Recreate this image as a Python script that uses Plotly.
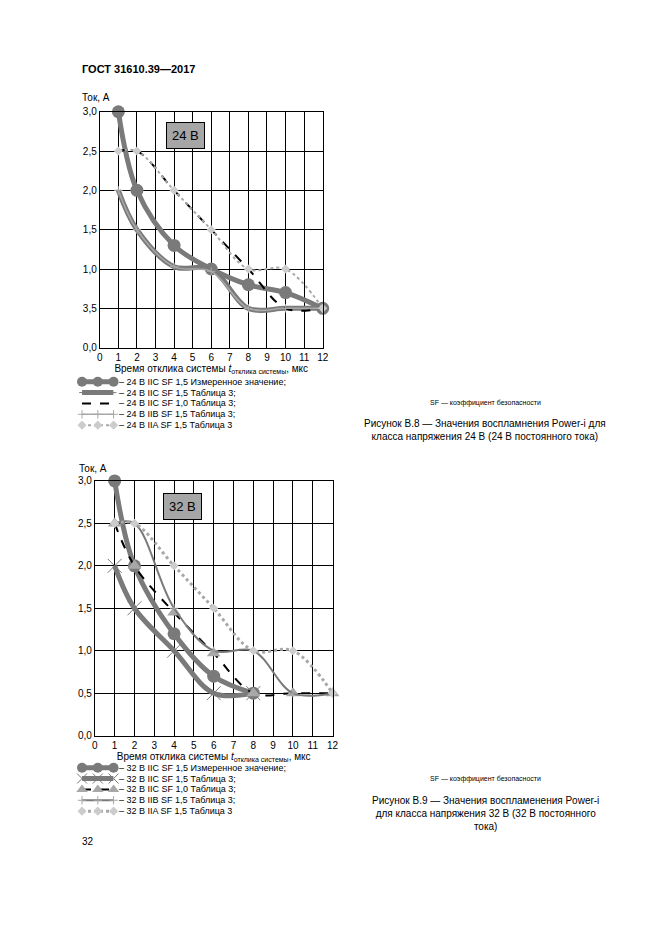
import plotly.graph_objects as go

x_top = [1, 2, 4, 6, 8, 10, 12]
top_measured = [3.0, 2.0, 1.3, 1.0, 0.8, 0.7, 0.5]
top_iic15 = [2.0, 1.5, 1.03, 1.0, 0.5, 0.5, 0.5]
top_iic10 = [2.5, 2.5, 2.0, 1.5, 1.0, 0.5, 0.5]
top_iib15 = [2.0, 1.5, 1.03, 0.97, 0.5, 0.5, 0.5]
top_iia15 = [2.5, 2.5, 2.0, 1.5, 1.0, 1.0, 0.5]

x_bot_short = [1, 2, 4, 6, 8]
x_bot = [1, 2, 4, 6, 8, 10, 12]
bot_measured = [3.0, 2.0, 1.2, 0.7, 0.5]
bot_iic15 = [2.0, 1.5, 1.0, 0.5, 0.5]
bot_iic10 = [2.5, 2.0, 1.45, 0.97, 0.5, 0.5, 0.5]
bot_iib15 = [2.5, 2.5, 1.5, 1.0, 1.0, 0.5, 0.5]
bot_iia15 = [2.5, 2.5, 2.0, 1.5, 1.0, 1.0, 0.5]

y_ticks = [0, 0.5, 1.0, 1.5, 2.0, 2.5, 3.0]
top_ticktext = ["0,0", "3,5", "1,0", "1,5", "2,0", "2,5", "3,0"]
bot_ticktext = ["0,0", "0,5", "1,0", "1,5", "2,0", "2,5", "3,0"]

top_names = ["– 24 В IIC SF 1,5 Измеренное значение;", "– 24 В IIC SF 1,5 Таблица 3;",
             "– 24 В IIC SF 1,0 Таблица 3;", "– 24 В IIB SF 1,5 Таблица 3;",
             "– 24 В IIA SF 1,5 Таблица 3"]
bot_names = [n.replace("24", "32") for n in top_names]
legend_rows = [1, 2, 3, 4, 5]
legend_span = [0, 0.5, 1]

dark = "#7a7a7a"
light = "#a8a8a8"

# page pixel -> paper coords (the page renders shifted by ~10/12 px)
def X(px):
    return (px - 10) / 661


def Y(py):
    return 1 - (py - 12) / 935


fig = go.Figure()


def styles(bottom):
    return [
        dict(mode="lines+markers", line=dict(color=dark, width=5, shape="spline"),
             marker=dict(size=13, color=dark)),
        dict(mode="lines+markers", line=dict(color=dark, width=5, shape="spline"),
             marker=dict(size=14 if bottom else 4, color=dark,
                         symbol="x-thin" if bottom else "line-ew", line=dict(color=dark, width=1))),
        dict(mode="lines+markers" if bottom else "lines",
             line=dict(color="black", width=2, dash="dash", shape="spline"),
             marker=dict(size=12, color=light, symbol="triangle-up")),
        dict(mode="lines+markers",
             line=dict(color=dark if bottom else light, width=2 if bottom else 1.5, shape="spline"),
             marker=dict(size=6, color=light, symbol="cross-thin", line=dict(color=light, width=1))),
        dict(mode="lines+markers",
             line=dict(color=light, width=3 if bottom else 2, dash="dot", shape="spline"),
             marker=dict(size=7, color="#cccccc", symbol="diamond")),
    ]


def add_set(xa, ya, lxa, lya, xs_list, data, bottom):
    st = styles(bottom)
    for xs, ys, s in zip(xs_list, data, st):
        fig.add_trace(go.Scatter(x=xs, y=ys, xaxis=xa, yaxis=ya, showlegend=False,
                                 cliponaxis=False, **s))
    # legend samples
    for row, s in zip(legend_rows, st):
        m = dict(s["marker"])
        m["size"] = min(m["size"], 10)
        fig.add_trace(go.Scatter(x=legend_span, y=[row] * 3, xaxis=lxa, yaxis=lya,
                                 showlegend=False, cliponaxis=False, mode=s["mode"],
                                 line=dict(s["line"], shape="linear"), marker=m,
                                 marker_maxdisplayed=0 if False else None,
                                 selectedpoints=None))


add_set("x", "y", "x3", "y3",
        [x_top, x_top, x_top, x_top, x_top],
        [top_measured, top_iic15, top_iic10, top_iib15, top_iia15], False)
add_set("x2", "y2", "x4", "y4",
        [x_bot_short, x_bot_short, x_bot, x_bot, x_bot],
        [bot_measured, bot_iic15, bot_iic10, bot_iib15, bot_iia15], True)

axis_font = dict(family="Liberation Sans, Arial", size=10, color="black")
xcommon = dict(range=[0, 12], dtick=1, showgrid=True, gridcolor="black", gridwidth=1,
               showline=True, linecolor="black", ticks="", tickfont=axis_font, zeroline=False)
ycommon = dict(range=[0, 3], tickvals=y_ticks, showgrid=True, gridcolor="black", gridwidth=1,
               showline=True, linecolor="black", tickfont=axis_font, zeroline=False)
hidden = dict(visible=False, fixedrange=True)

xt = "Время отклика системы <i>t</i><sub>отклика системы</sub>, мкс"
fig.update_layout(
    width=661, height=935, margin=dict(l=0, r=0, t=0, b=0),
    paper_bgcolor="white", plot_bgcolor="white", showlegend=False,
    font=dict(family="Liberation Sans, Arial", color="black"),
    xaxis=dict(xcommon, domain=[X(100), X(326)], anchor="y", mirror=True,
               title=dict(text=xt, font=dict(size=10), standoff=2)),
    yaxis=dict(ycommon, domain=[Y(350), Y(111)], anchor="x", ticktext=top_ticktext, mirror=True),
    xaxis2=dict(xcommon, domain=[X(95), X(336)], anchor="y2", mirror=True,
                title=dict(text=xt, font=dict(size=10), standoff=2)),
    yaxis2=dict(ycommon, domain=[Y(743), Y(485)], anchor="x2", ticktext=bot_ticktext, mirror=True),
    xaxis3=dict(hidden, domain=[X(82), X(114)], range=[0, 1], anchor="y3"),
    yaxis3=dict(hidden, domain=[Y(434), Y(379)], range=[5.5, 0.5], anchor="x3"),
    xaxis4=dict(hidden, domain=[X(82), X(114)], range=[0, 1], anchor="y4"),
    yaxis4=dict(hidden, domain=[Y(825), Y(770)], range=[5.5, 0.5], anchor="x4"),
)

for yref, names in (("y3", top_names), ("y4", bot_names)):
    for row, name in zip(legend_rows, names):
        fig.add_annotation(xref="paper", yref=yref, x=X(117), y=row, text=name,
                           showarrow=False, xanchor="left", yanchor="middle",
                           font=dict(size=9))

ann = [
    dict(x=X(80), y=Y(68), text="<b>ГОСТ 31610.39—2017</b>", font=dict(size=11)),
    dict(x=X(80), y=Y(97), text="Ток, А", font=dict(size=10)),
    dict(x=X(77), y=Y(472), text="Ток, А", font=dict(size=10)),
    dict(x=X(80), y=Y(850), text="32", font=dict(size=10)),
    dict(x=X(491), y=Y(406), text="SF — коэффициент безопасности", font=dict(size=7),
         xanchor="center"),
    dict(x=X(491), y=Y(433), xanchor="center", font=dict(size=10),
         text="Рисунок В.8 — Значения воспламнения Power-i для<br>класса напряжения 24 В (24 В постоянного тока)"),
    dict(x=X(491), y=Y(787), text="SF — коэффициент безопасности", font=dict(size=7),
         xanchor="center"),
    dict(x=X(491), y=Y(822), xanchor="center", font=dict(size=10),
         text="Рисунок В.9 — Значения воспламенения Power-i<br>для класса напряжения 32 В (32 В постоянного<br>тока)"),
]
for a in ann:
    fig.add_annotation(xref="paper", yref="paper", showarrow=False,
                       xanchor=a.pop("xanchor", "left"), yanchor="middle", **a)

fig.add_annotation(xref="x", yref="y", x=4.6, y=2.7, text="24 В", showarrow=False,
                   bgcolor="#a6a6a6", bordercolor="black", borderwidth=1, borderpad=5,
                   font=dict(size=13))
fig.add_annotation(xref="x2", yref="y2", x=4.4, y=2.7, text="32 В", showarrow=False,
                   bgcolor="#a6a6a6", bordercolor="black", borderwidth=1, borderpad=5,
                   font=dict(size=13))

fig.write_html("out.html")
